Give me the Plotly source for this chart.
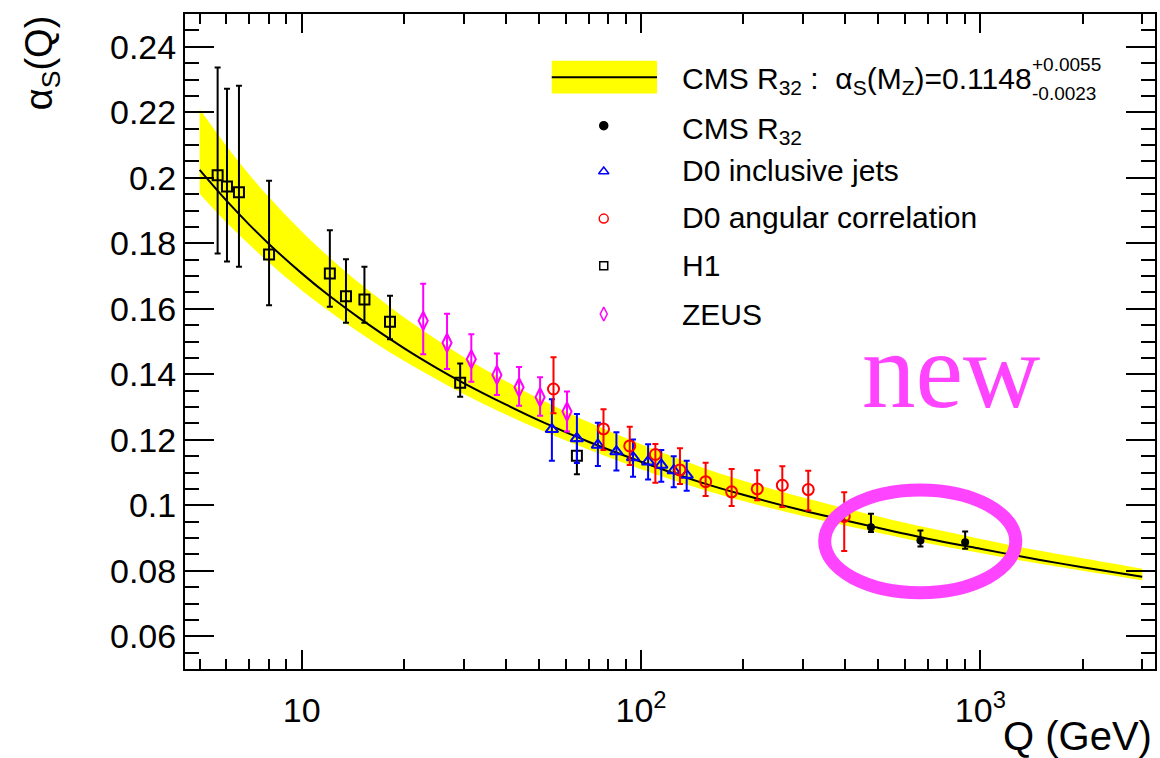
import plotly.graph_objects as go

# ---------------- data ----------------
# QCD fit curve and band
curve_q = [5, 6, 7, 8, 10, 12, 15, 20, 25, 30, 40, 50, 70, 100, 150, 200, 300, 500, 700, 1000, 1500, 2000, 3000]
curve_a = [0.2024, 0.1930, 0.1857, 0.1798, 0.1708, 0.1641, 0.1567, 0.1480, 0.1419, 0.1373, 0.1307, 0.1259,
           0.1194, 0.1133, 0.1070, 0.1032, 0.0984, 0.0931, 0.0898, 0.0867, 0.0833, 0.0811, 0.0782]
band_up = [0.2210, 0.2097, 0.2010, 0.1941, 0.1836, 0.1759, 0.1673, 0.1574, 0.1505, 0.1453, 0.1379, 0.1326,
           0.1254, 0.1186, 0.1117, 0.1075, 0.1024, 0.0966, 0.0931, 0.0897, 0.0861, 0.0838, 0.0806]
band_lo = [0.1951, 0.1863, 0.1796, 0.1741, 0.1656, 0.1594, 0.1523, 0.1441, 0.1384, 0.1340, 0.1277, 0.1232,
           0.1170, 0.1110, 0.1050, 0.1013, 0.0967, 0.0916, 0.0884, 0.0854, 0.0821, 0.0800, 0.0771]

h1_q = [5.65, 6.02, 6.53, 8.01, 12.1, 13.5, 15.3, 18.2, 29.3, 64.7]
h1_a = [0.2008, 0.1973, 0.1956, 0.1766, 0.1708, 0.1638, 0.1628, 0.1560, 0.1374, 0.1151]
h1_up = [0.0329, 0.0299, 0.0325, 0.0225, 0.0132, 0.0113, 0.0100, 0.0080, 0.0059, 0.0045]
h1_dn = [0.0239, 0.0229, 0.0228, 0.0155, 0.0102, 0.0081, 0.0071, 0.0053, 0.0043, 0.0056]

zeus_q = [22.8, 26.8, 31.6, 37.6, 43.7, 50.4, 60.5]
zeus_a = [0.1563, 0.1496, 0.1446, 0.1398, 0.1360, 0.1330, 0.1286]
zeus_up = [0.0113, 0.0089, 0.0076, 0.0065, 0.0062, 0.0061, 0.0061]
zeus_dn = [0.0102, 0.0080, 0.0069, 0.0061, 0.0056, 0.0057, 0.0061]

d0inc_q = [54.6, 64.7, 74.6, 84.6, 94.7, 104.9, 114.7, 124.8, 136.3]
d0inc_a = [0.1232, 0.1204, 0.1184, 0.1164, 0.1146, 0.1133, 0.1123, 0.1106, 0.1092]
d0inc_up = [0.0092, 0.0075, 0.0068, 0.0059, 0.0055, 0.0053, 0.0046, 0.0044, 0.0044]
d0inc_dn = [0.0096, 0.0075, 0.0064, 0.0058, 0.0059, 0.0054, 0.0051, 0.0051, 0.0048]

d0ang_q = [55.2, 77.5, 92.6, 110.2, 130.2, 155.0, 184.9, 220.0, 260.8, 311.0, 397.0]
d0ang_a = [0.1355, 0.1233, 0.1181, 0.1155, 0.1108, 0.1072, 0.1041, 0.1050, 0.1061, 0.1048, 0.0966]
d0ang_up = [0.0097, 0.0060, 0.0059, 0.0032, 0.0066, 0.0058, 0.0070, 0.0057, 0.0058, 0.0057, 0.0074]
d0ang_dn = [0.0074, 0.0064, 0.0058, 0.0086, 0.0043, 0.0044, 0.0043, 0.0035, 0.0066, 0.0064, 0.0106]

cms_q = [476, 666, 902]
cms_a = [0.0933, 0.0892, 0.0887]
cms_up = [0.0041, 0.0031, 0.0033]
cms_dn = [0.0015, 0.0018, 0.0020]

x_major = [10, 100, 1000]
x_major_text = ["10", "10<sup>2</sup>", "10<sup>3</sup>"]
x_minor = [5, 6, 7, 8, 9, 20, 30, 40, 50, 60, 70, 80, 90, 200, 300, 400, 500, 600, 700, 800, 900, 2000, 3000]

legend_labels = ["CMS R<sub>32</sub>", "D0 inclusive jets", "D0 angular correlation", "H1", "ZEUS"]

FONT = "Liberation Sans, Arial, Helvetica, sans-serif"
YELLOW = "#FFFF00"
MAGENTA = "#FF00FF"
PINK = "#FF44FF"

fig = go.Figure()

# band
fig.add_trace(go.Scatter(x=curve_q, y=band_up, mode="lines", line=dict(width=0, shape="spline"),
                         showlegend=False, hoverinfo="skip"))
fig.add_trace(go.Scatter(x=curve_q, y=band_lo, mode="lines", line=dict(width=0, shape="spline"),
                         fill="tonexty", fillcolor=YELLOW, showlegend=False, hoverinfo="skip"))
# central curve
fig.add_trace(go.Scatter(x=curve_q, y=curve_a, mode="lines", line=dict(color="black", width=2, shape="spline"),
                         showlegend=False))


def data_trace(q, a, up, dn, color, symbol, size, lw=2):
    return go.Scatter(
        x=q, y=a, mode="markers",
        marker=dict(symbol=symbol, size=size, color=color, line=dict(color=color, width=lw)),
        error_y=dict(type="data", symmetric=False, array=up, arrayminus=dn,
                     color=color, thickness=2, width=3),
        showlegend=False)


fig.add_trace(data_trace(h1_q, h1_a, h1_up, h1_dn, "black", "square-open", 10))
fig.add_trace(data_trace(zeus_q, zeus_a, zeus_up, zeus_dn, MAGENTA, "diamond-tall-open", 13))
fig.add_trace(data_trace(d0inc_q, d0inc_a, d0inc_up, d0inc_dn, "#0000FF", "triangle-up-open", 11))
fig.add_trace(data_trace(d0ang_q, d0ang_a, d0ang_up, d0ang_dn, "#FF0000", "circle-open", 11))
fig.add_trace(data_trace(cms_q, cms_a, cms_up, cms_dn, "black", "circle", 8, lw=0))

# ---------------- legend (manual, on overlay axes in [0,1]) ----------------
L = 185.0; R = 1157.0; T = 14.0; B = 669.0
W = R - L; H = B - T


def px(xp):
    return (xp - L) / W


def py(yp):
    return (B - yp) / H


leg_rows_px = [125.7, 171.5, 218.6, 265.7, 314.0]
leg_marker_x = 604.6
leg_styles = [("black", "circle", 8), ("#0000FF", "triangle-up-open", 9), ("#FF0000", "circle-open", 9),
              ("black", "square-open", 8), (MAGENTA, "diamond-tall-open", 10)]
for yp, (c, s, sz) in zip(leg_rows_px, leg_styles):
    fig.add_trace(go.Scatter(x=[px(leg_marker_x)], y=[py(yp)], xaxis="x2", yaxis="y2", mode="markers",
                             marker=dict(symbol=s, size=sz, color=c, line=dict(color=c, width=1.5)),
                             showlegend=False, hoverinfo="skip"))

shapes = [
    dict(type="rect", xref="paper", yref="paper", x0=px(552.5), x1=px(658), y0=py(93.6), y1=py(60.7),
         fillcolor=YELLOW, line=dict(width=0), layer="above"),
    dict(type="line", xref="paper", yref="paper", x0=px(552.5), x1=px(658), y0=py(77.2), y1=py(77.2),
         line=dict(color="black", width=2), layer="above"),
    dict(type="circle", xref="paper", yref="paper", x0=px(826), x1=px(1017.5), y0=py(592.7), y1=py(490),
         line=dict(color=PINK, width=13), layer="above"),
]

annotations = []
text_x = px(681)
annotations.append(dict(xref="paper", yref="paper", x=text_x, y=py(80), xanchor="left", yanchor="middle",
                        text="CMS R<sub>32</sub> :  α<sub>S</sub>(M<sub>Z</sub>)=0.1148", showarrow=False,
                        font=dict(family=FONT, size=30, color="black")))
annotations.append(dict(xref="paper", yref="paper", x=px(1032), y=py(64), xanchor="left", yanchor="middle",
                        text="+0.0055", showarrow=False, font=dict(family=FONT, size=19, color="black")))
annotations.append(dict(xref="paper", yref="paper", x=px(1032), y=py(93), xanchor="left", yanchor="middle",
                        text="-0.0023", showarrow=False, font=dict(family=FONT, size=19, color="black")))
leg_text_rows = [130, 170, 217, 265.7, 314]
for yp, lab in zip(leg_text_rows, legend_labels):
    annotations.append(dict(xref="paper", yref="paper", x=text_x, y=py(yp), xanchor="left", yanchor="middle",
                            text=lab, showarrow=False, font=dict(family=FONT, size=30, color="black")))

# "new"
annotations.append(dict(xref="paper", yref="paper", x=px(953), y=py(371), xanchor="center", yanchor="middle",
                        text="new", showarrow=False,
                        font=dict(family="Liberation Serif, Times New Roman, serif", size=107, color=PINK)))
# axis titles
annotations.append(dict(xref="paper", yref="paper", x=px(42), y=py(63), xanchor="center", yanchor="middle",
                        text="α<sub>S</sub>(Q)", textangle=-90, showarrow=False,
                        font=dict(family=FONT, size=38, color="black")))
annotations.append(dict(xref="paper", yref="paper", x=px(1156), y=py(736), xanchor="right", yanchor="middle",
                        text="Q (GeV)", showarrow=False, font=dict(family=FONT, size=40, color="black")))

fig.update_layout(
    width=1160, height=758,
    margin=dict(l=int(L), r=int(1160 - R), t=int(T), b=int(758 - B)),
    paper_bgcolor="white", plot_bgcolor="white",
    showlegend=False,
    shapes=shapes, annotations=annotations,
    xaxis=dict(type="log", range=[0.65588, 3.51471], showgrid=False, zeroline=False,
               showline=True, linecolor="black", linewidth=2, mirror="allticks",
               ticks="inside", ticklen=19, tickwidth=2, tickcolor="black",
               tickmode="array", tickvals=x_major, ticktext=x_major_text,
               ticklabelstandoff=10,
               tickfont=dict(family=FONT, size=34, color="black"),
               minor=dict(tickmode="array", tickvals=x_minor, ticks="inside", ticklen=10, tickwidth=2,
                          tickcolor="black", showgrid=False)),
    yaxis=dict(range=[0.05, 0.25], showgrid=False, zeroline=False,
               showline=True, linecolor="black", linewidth=2, mirror="allticks",
               ticks="inside", ticklen=29, tickwidth=2, tickcolor="black",
               tickmode="linear", tick0=0.06, dtick=0.02, tickformat="~g",
               tickfont=dict(family=FONT, size=34, color="black"),
               minor=dict(dtick=0.005, tick0=0.05, ticks="inside", ticklen=14, tickwidth=2,
                          tickcolor="black", showgrid=False)),
    xaxis2=dict(overlaying="x", range=[0, 1], visible=False, fixedrange=True),
    yaxis2=dict(overlaying="y", range=[0, 1], visible=False, fixedrange=True),
)

fig.write_html("out.html")
